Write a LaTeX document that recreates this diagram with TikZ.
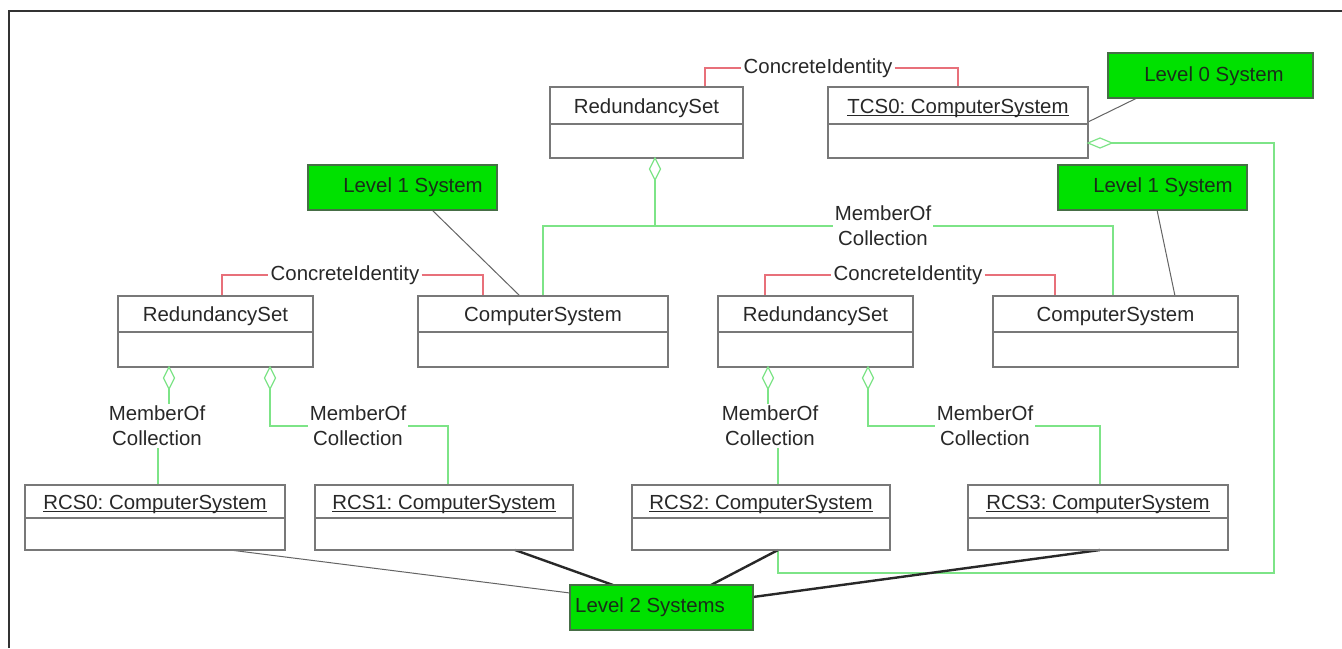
\documentclass[tikz,border=0pt]{standalone}
\usepackage{fontspec}
\setmainfont{Liberation Sans}
\usetikzlibrary{calc,shapes.geometric}
\pgfdeclarelayer{bg}
\pgfsetlayers{bg,main}
\frenchspacing
\definecolor{boxgray}{RGB}{120,120,120}
\definecolor{gcol}{RGB}{125,228,135}
\definecolor{rcol}{RGB}{232,112,122}
\definecolor{gfill}{RGB}{0,225,0}
\definecolor{gborder}{RGB}{70,110,70}
\definecolor{gtext}{RGB}{25,45,25}
\definecolor{txt}{RGB}{40,40,40}
\definecolor{framecol}{RGB}{50,50,50}
\definecolor{blk}{RGB}{40,40,40}
\definecolor{thin}{RGB}{100,100,100}
\newcommand{\ul}[1]{\underline{\smash{#1}}}
\tikzset{
  umlrect/.style={draw=boxgray, line width=0.65pt, rectangle, inner sep=0pt, outer sep=0pt},
  boxline/.style={draw=boxgray, line width=0.65pt},
  title/.style={text=txt, inner sep=0pt, anchor=base, font=\fontsize{10.2}{12.5}\selectfont},
  grect/.style={draw=gborder, fill=gfill, line width=0.6pt, rectangle, inner sep=0pt, outer sep=0pt},
  gtitle/.style={text=gtext, inner sep=0pt, font=\fontsize{10.2}{12.5}\selectfont},
  lab/.style={text=txt, fill=white, inner sep=1pt, align=center, font=\fontsize{10.2}{12.5}\selectfont},
  gline/.style={draw=gcol, line width=0.6pt},
  rline/.style={draw=rcol, line width=0.6pt},
  thinline/.style={draw=thin, line width=0.5pt},
  thickline/.style={draw=blk, line width=1.2pt},
  dia/.style={diamond, draw=gcol, fill=white, line width=0.6pt, inner sep=0pt, outer sep=0pt, minimum width=5.5pt, minimum height=11pt},
  hdia/.style={diamond, draw=gcol, fill=white, line width=0.6pt, inner sep=0pt, outer sep=0pt, minimum width=12pt, minimum height=5pt}
}
\newcommand{\umlbox}[7]{%
  \node[umlrect, minimum width={(#4-#2)*0.5pt}, minimum height={(#5-#3)*0.5pt}] (#1) at ({(#2+#4)/2},{(#3+#5)/2}) {};
  \draw[boxline] (#2,#6) -- (#4,#6);
  \node[title] at ({(#2+#4)/2},{(#3+#6)/2+7.5}) {#7};
}
\newcommand{\greenbox}[8]{%
  \node[grect, minimum width={(#4-#2)*0.5pt}, minimum height={(#5-#3)*0.5pt}] (#1) at ({(#2+#4)/2},{(#3+#5)/2}) {};
  \node[gtitle] at (#6,#7) {#8};
}
\begin{document}
\begin{tikzpicture}[x=0.5pt,y=-0.5pt]
\useasboundingbox (0,0) rectangle (1342,648);
\begin{pgfonlayer}{bg}
\fill[white] (0,0) rectangle (1342,648);
\end{pgfonlayer}
\draw[framecol, line width=1.2pt] (9,648) -- (9,11) -- (1342,11);

% UML boxes
\umlbox{rs0}{550}{87}{743}{158}{124}{RedundancySet}
\umlbox{tcs0}{828}{87}{1088}{158}{124}{\ul{TCS0: ComputerSystem}}
\umlbox{rs1}{118}{296}{313}{367}{332}{RedundancySet}
\umlbox{cs1}{418}{296}{668}{367}{332}{ComputerSystem}
\umlbox{rs2}{718}{296}{913}{367}{332}{RedundancySet}
\umlbox{cs2}{993}{296}{1238}{367}{332}{ComputerSystem}
\umlbox{rcs0}{25}{485}{285}{550}{518}{\ul{RCS0: ComputerSystem}}
\umlbox{rcs1}{315}{485}{573}{550}{518}{\ul{RCS1: ComputerSystem}}
\umlbox{rcs2}{632}{485}{890}{550}{518}{\ul{RCS2: ComputerSystem}}
\umlbox{rcs3}{968}{485}{1228}{550}{518}{\ul{RCS3: ComputerSystem}}

% green boxes
\greenbox{l0}{1108}{53}{1313}{98}{1214}{76}{Level 0 System}
\greenbox{l1a}{308}{165}{497}{210}{413}{187}{Level 1 System}
\greenbox{l1b}{1058}{165}{1247}{210}{1163}{187}{Level 1 System}
\greenbox{l2}{570}{585}{753}{630}{650}{607}{Level 2 Systems}

% labels
\node[lab] (ci0) at (818,68) {ConcreteIdentity};
\node[lab] (ci1) at (345,275) {ConcreteIdentity};
\node[lab] (ci2) at (908,275) {ConcreteIdentity};
\node[lab] (mc0) at (883,226) {MemberOf\\Collection};
\node[lab] (mc1) at (157,426) {MemberOf\\Collection};
\node[lab] (mc2) at (358,426) {MemberOf\\Collection};
\node[lab] (mc3) at (770,426) {MemberOf\\Collection};
\node[lab] (mc4) at (985,426) {MemberOf\\Collection};

% diamonds
\node[dia, anchor=north] (dm0) at ($(rs0.south west)+(105,0)$) {};
\node[dia, anchor=north] (dm1) at ($(rs1.south west)+(51,0)$) {};
\node[dia, anchor=north] (dm2) at ($(rs1.south west)+(152,0)$) {};
\node[dia, anchor=north] (dm3) at ($(rs2.south west)+(50,0)$) {};
\node[dia, anchor=north] (dm4) at ($(rs2.south west)+(150,0)$) {};
\node[hdia, anchor=west] (dm5) at ($(tcs0.north east)+(0,56)$) {};

\begin{pgfonlayer}{bg}
% concrete identity
\draw[rline] ($(rs0.north west)+(155,0)$) |- (ci0.west);
\draw[rline] (ci0.east) -| ($(tcs0.north west)+(130,0)$);
\draw[rline] ($(rs1.north west)+(104,0)$) |- (ci1.west);
\draw[rline] (ci1.east) -| ($(cs1.north west)+(65,0)$);
\draw[rline] ($(rs2.north west)+(47,0)$) |- (ci2.west);
\draw[rline] (ci2.east) -| ($(cs2.north west)+(62,0)$);
% member of collection
\draw[gline] (dm0.south) -- (dm0.south |- mc0);
\draw[gline] ($(cs1.north west)+(125,0)$) |- (mc0.center) -| ($(cs2.north west)+(120,0)$);
\draw[gline] (dm1.south) |- (mc1.center) -| ($(rcs0.north west)+(133,0)$);
\draw[gline] (dm2.south) |- (mc2.center) -| ($(rcs1.north west)+(133,0)$);
\draw[gline] (dm3.south) |- (mc3.center) -| ($(rcs2.north west)+(146,0)$);
\draw[gline] (dm4.south) |- (mc4.center) -| ($(rcs3.north west)+(132,0)$);
\draw[gline] (dm5.east) -- ++(162,0) |- ($(rcs2.south west)+(146,23)$) -- ($(rcs2.south west)+(146,0)$);
% level links
\draw[thinline] ($(l0.south west)+(29,0)$) -- ($(tcs0.north east)+(0,35)$);
\draw[thinline] ($(l1a.south west)+(124,0)$) -- ($(cs1.north west)+(102,0)$);
\draw[thinline] ($(l1b.south west)+(99,0)$) -- ($(cs2.north west)+(182,0)$);
\draw[thinline] ($(rcs0.south west)+(205,0)$) -- ($(l2.north west)+(0,8)$);
\draw[thickline] ($(rcs1.south west)+(200,0)$) -- ($(l2.north west)+(43,0)$);
\draw[thickline] ($(rcs2.south west)+(146,0)$) -- ($(l2.north west)+(141,0)$);
\draw[thickline] ($(rcs3.south west)+(132,0)$) -- ($(l2.north east)+(0,12)$);
\end{pgfonlayer}
\end{tikzpicture}
\end{document}
